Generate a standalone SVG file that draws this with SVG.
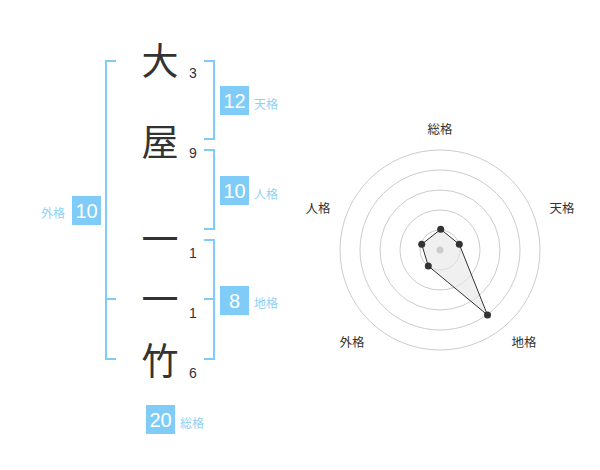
<svg xmlns="http://www.w3.org/2000/svg" width="600" height="470" viewBox="0 0 600 470">
<style>
.ch{font-family:"Noto Sans CJK JP","Noto Sans CJK SC",sans-serif;font-size:37px;fill:#333;text-anchor:middle}
.num{font-family:"Liberation Sans",Arial,sans-serif;font-size:14px;fill:#333;text-anchor:middle}
.br{fill:none;stroke:#80ccf8;stroke-width:2}
.box{fill:#80ccf8}
.bt{font-family:"Liberation Sans",Arial,sans-serif;font-size:20px;fill:#fff;text-anchor:middle}
.lb{font-family:"Noto Sans CJK JP","Noto Sans CJK SC",sans-serif;font-size:12px;fill:#8ed1f7}
.rl{font-family:"Noto Sans CJK JP","Noto Sans CJK SC",sans-serif;font-size:12.5px;fill:#333;text-anchor:middle}
.ring{fill:none;stroke:#ccc;stroke-width:1}
.pt{fill:#333}
</style>
<g id="chars">
<text class="ch" x="160" y="75">大</text>
<text class="ch" x="160" y="156">屋</text>
<text class="ch" x="160" y="253">一</text>
<text class="ch" x="160" y="313">一</text>
<text class="ch" x="160" y="375">竹</text>
<text class="num" x="193" y="78">3</text>
<text class="num" x="193" y="158">9</text>
<text class="num" x="193" y="258">1</text>
<text class="num" x="193" y="318">1</text>
<text class="num" x="193" y="378">6</text>
</g>
<g id="connectors">
<path class="br" d="M116,61 H106 V359 H116 M106,299 H116"/>
<path class="br" d="M204,61 H214 V139 H204"/>
<path class="br" d="M204,150 H214 V229 H204"/>
<path class="br" d="M204,240 H214 V359 H204 M214,299 H204"/>
</g>
<g id="tenkaku">
<rect class="box" x="220" y="86" width="29" height="29"/>
<text class="bt" x="234.5" y="107.5">12</text>
<text class="lb" x="254" y="108.5">天格</text>
</g>
<g id="jinkaku">
<rect class="box" x="220" y="176" width="29" height="29"/>
<text class="bt" x="234.5" y="197.5">10</text>
<text class="lb" x="254" y="198.5">人格</text>
</g>
<g id="gaikaku">
<rect class="box" x="72" y="196" width="29" height="29"/>
<text class="bt" x="86.5" y="217.5">10</text>
<text class="lb" x="41" y="218">外格</text>
</g>
<g id="chikaku">
<rect class="box" x="220" y="286" width="29" height="29"/>
<text class="bt" x="234.5" y="307.5">8</text>
<text class="lb" x="254" y="308">地格</text>
</g>
<g id="soukaku">
<rect class="box" x="146" y="405" width="29" height="29"/>
<text class="bt" x="160.5" y="426.5">20</text>
<text class="lb" x="180" y="428">総格</text>
</g>
<g id="radar">
<circle class="ring" cx="440" cy="250" r="20"/>
<circle class="ring" cx="440" cy="250" r="40"/>
<circle class="ring" cx="440" cy="250" r="60"/>
<circle class="ring" cx="440" cy="250" r="80"/>
<circle class="ring" cx="440" cy="250" r="100"/>
<polygon points="440.7,229.3 459.3,244.3 487.5,315 428.3,266 421.7,244.3" fill="#e6e6e6" fill-opacity="0.6" stroke="#333" stroke-width="1"/>
<circle cx="440" cy="250" r="3.5" fill="#ccc"/>
<circle class="pt" cx="440.7" cy="229.3" r="3.5"/>
<circle class="pt" cx="459.3" cy="244.3" r="3.5"/>
<circle class="pt" cx="487.5" cy="315" r="3.5"/>
<circle class="pt" cx="428.3" cy="266" r="3.5"/>
<circle class="pt" cx="421.7" cy="244.3" r="3.5"/>
<text class="rl" x="440" y="134">総格</text>
<text class="rl" x="562" y="213">天格</text>
<text class="rl" x="318" y="213">人格</text>
<text class="rl" x="352" y="347">外格</text>
<text class="rl" x="524" y="347">地格</text>
</g>
</svg>
